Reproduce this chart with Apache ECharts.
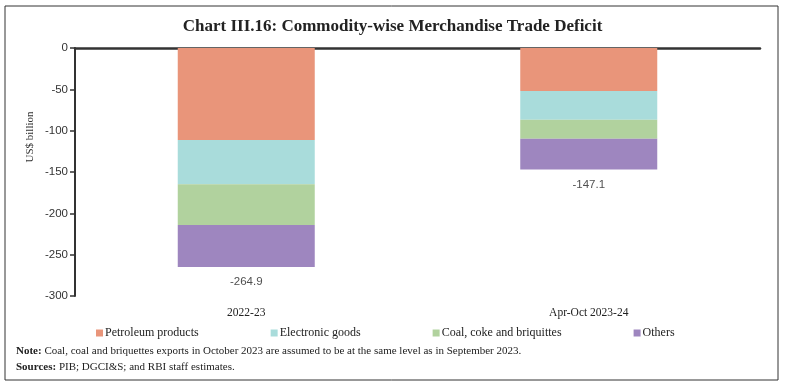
<!DOCTYPE html>
<html><head><meta charset="utf-8">
<script src="https://cdn.jsdelivr.net/npm/echarts@6/dist/echarts.min.js"></script>
<style>html,body{margin:0;padding:0;background:#fff}#c{width:785px;height:386px}</style>
</head><body><div id="c"></div>
<script>
const categories = ['2022-23', 'Apr-Oct 2023-24'];
const petroleum = [-111.3, -52.0];
const electronic = [-53.5, -34.7];
const coal = [-49.2, -23.0];
const others = [-50.9, -37.4];
const totals = [-264.9, -147.1];
const yTicks = [0, -50, -100, -150, -200, -250, -300];

const serif = '"Liberation Serif", "DejaVu Serif", serif';
const sans = '"Liberation Sans", "DejaVu Sans", sans-serif';
const colors = ['#E9957A', '#A9DCDB', '#B1D29E', '#9E86BF'];
const names = ['Petroleum products', 'Electronic goods', 'Coal, coke and briquittes', 'Others'];
const vals = [petroleum, electronic, coal, others];

const chart = echarts.init(document.getElementById('c'), null, {renderer: 'canvas'});
const series = vals.map((v, i) => ({
  name: names[i], type: 'bar', stack: 'total', barWidth: '40%',
  data: v, itemStyle: {color: colors[i]}, emphasis: {disabled: true}
}));
series.push({
  type: 'scatter', data: totals, symbolSize: 0, silent: true,
  label: {show: true, position: 'bottom', distance: 9, fontFamily: sans, fontSize: 11.5, color: '#222',
    formatter: p => p.value.toFixed(1)}
});
chart.setOption({
  animation: false,
  color: colors,
  grid: {left: 75, right: 25, top: 48, bottom: 90, containLabel: false},
  title: {text: 'Chart III.16: Commodity-wise Merchandise Trade Deficit', left: 'center', top: 13,
    textStyle: {fontFamily: serif, fontSize: 17, fontWeight: 'bold', color: '#222'}},
  legend: {data: names, left: 91, top: 322, itemWidth: 7, itemHeight: 7, itemGap: 72, icon: 'rect',
    textStyle: {fontFamily: serif, fontSize: 12, color: '#222', padding: [0, 0, 0, -3]}},
  xAxis: [
    {type: 'category', data: categories, position: 'bottom', axisLine: {show: false, onZero: false},
     axisTick: {show: false}, axisLabel: {fontFamily: serif, fontSize: 11.5, color: '#222', margin: 11}},
    {type: 'category', data: categories, position: 'top', axisLine: {show: true, lineStyle: {color: '#333', width: 2.5}},
     axisTick: {show: false}, axisLabel: {show: false}}
  ],
  yAxis: {type: 'value', min: -300, max: 0, interval: 50,
    axisLine: {show: true, lineStyle: {color: '#333', width: 2}},
    axisTick: {show: true, length: 5, lineStyle: {color: '#333', width: 1.5}},
    splitLine: {show: false},
    axisLabel: {fontFamily: sans, fontSize: 11.5, color: '#333', margin: 7,
      formatter: v => yTicks.includes(v) ? String(v) : ''}},
  series: series,
  graphic: [
    {type: 'rect', shape: {x: 5, y: 6, width: 773, height: 374}, style: {fill: 'none', stroke: '#333', lineWidth: 1}, silent: true, z: -1},
    {type: 'text', x: 30, y: 137, rotation: Math.PI / 2,
      style: {text: 'US$ billion', fontFamily: serif, fontSize: 11, fill: '#333', align: 'center', verticalAlign: 'middle'}},
    {type: 'text', x: 16, y: 346,
      style: {text: '{b|Note:} Coal, coal and briquettes exports in October 2023 are assumed to be at the same level as in September 2023.',
        rich: {b: {fontWeight: 'bold', fontFamily: serif, fontSize: 11, fill: '#222'}},
        fontFamily: serif, fontSize: 11, fill: '#222'}},
    {type: 'text', x: 16, y: 362,
      style: {text: '{b|Sources:} PIB; DGCI&S; and RBI staff estimates.',
        rich: {b: {fontWeight: 'bold', fontFamily: serif, fontSize: 11, fill: '#222'}},
        fontFamily: serif, fontSize: 11, fill: '#222'}}
  ]
});
</script></body></html>
